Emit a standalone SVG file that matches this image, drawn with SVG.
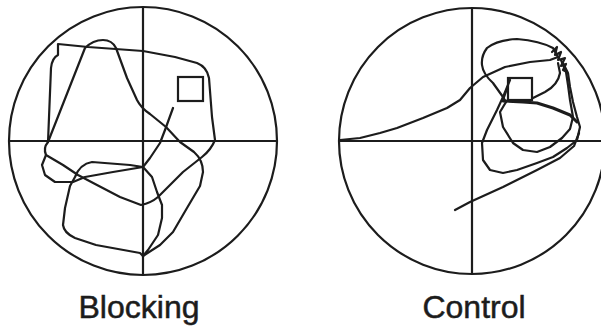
<svg xmlns="http://www.w3.org/2000/svg" width="601" height="326" viewBox="0 0 601 326">
<style>
.c{fill:none;stroke:#1c1c1c;stroke-width:2.2}
.ax{stroke:#1c1c1c;stroke-width:2.2}
.t{fill:none;stroke:#1c1c1c;stroke-width:2.2;stroke-linejoin:round;stroke-linecap:round}
.sq{fill:none;stroke:#1c1c1c;stroke-width:2.2}
.lbl{font-family:"Liberation Sans",Arial,sans-serif;font-size:32px;fill:#1c1c1c;stroke:#1c1c1c;stroke-width:0.5;text-anchor:middle}
</style>
<rect width="601" height="326" fill="#fff"/>
<g id="blocking">
<circle class="c" cx="143" cy="141" r="134"/>
<line class="ax" x1="9" y1="141" x2="277" y2="141"/>
<line class="ax" x1="143" y1="7" x2="143" y2="275"/>
<rect class="sq" x="178" y="77" width="25" height="24"/>
<g id="blocking-track">
<path class="t" d="M58,44 L88,47 L143,51 L175,57 L197,63 Q207,67 209,78 L212,117 L215,140 Q211,150 202,157 L183,172 L158,197 Q151,203 141,205 L120,197 L97,185 L78,175 L63,165 L46,155 Q43,148 48,142 L51,68 Q52,58 58,55 Z"/>
<path class="t" d="M48,142 L85,48 Q93,40 103,40 Q112,40 116,48 L127,78 L137,100 Q141,108 150,114 L166,127 L180,142 L194,152 Q203,160 203,172 L200,186 L187,208 L173,232 L160,245 L143,256"/>
<path class="t" d="M173,108 L165,130 L160,143 L150,158 L143,167 L130,165 L92,162 Q80,164 75,177 L70,186 L65,208 L63,225 Q64,233 75,238 L96,245 L140,253 L143,256"/>
<path class="t" d="M143,167 L113,172 L85,177 L73,182 L55,182 L45,175 L42,165 L46,155"/>
<path class="t" d="M143,167 L152,177 L157,192 L162,205 L162,218 L158,235 L148,250 L143,256"/>
</g>
</g>
<g id="control">
<circle class="c" cx="472" cy="141" r="133"/>
<line class="ax" x1="339" y1="141" x2="601" y2="141"/>
<line class="ax" x1="472" y1="8" x2="472" y2="274"/>
<rect class="sq" x="508" y="78" width="24" height="22"/>
<g id="control-track">
<path class="t" d="M340,140 L360,138 L380,133 L397,128 L423,118 L447,108 L460,100 L470,88 L483,77 L505,67 L530,62 L550,60 L558,57 L553,48 Q540,41 517,39 Q497,40 487,48 Q481,56 482,65 Q483,74 493,83 L503,97 L506,102"/>
<path class="t" style="stroke-width:3" d="M503,101 L523,102 L537,103 L553,108 L570,115 L577,122"/>
<path class="t" d="M506,102 L500,112 L503,127 L513,143 L523,150 L537,152 L550,147 L562,138 L570,129 L573,117 L570,100 L568,85 L566,72 L561,60"/>
<path class="t" d="M510,80 L503,97 L497,110 L487,130 L482,143 L483,160 L490,170 L503,173 L517,170 L537,163 L553,157 L567,148 L577,140 L580,127 L577,117 L573,102 L570,87 L568,73 L563,63"/>
<path class="t" d="M455,210 L470,202 L503,187 L537,170 L560,158 L574,146 L579,133"/>
<path class="t" d="M558,63 L560,73 Q558,85 545,92 L533,98"/>
<path class="t" d="M552,52 L557,47 L555,55 L561,52 L558,60 L565,58 L561,66 L566,64 L563,70 L567,72"/>
<path class="t" d="M503,100 L508,86"/>
</g>
</g>
<text class="lbl" x="139" y="318">Blocking</text>
<text class="lbl" x="474" y="318">Control</text>
</svg>
